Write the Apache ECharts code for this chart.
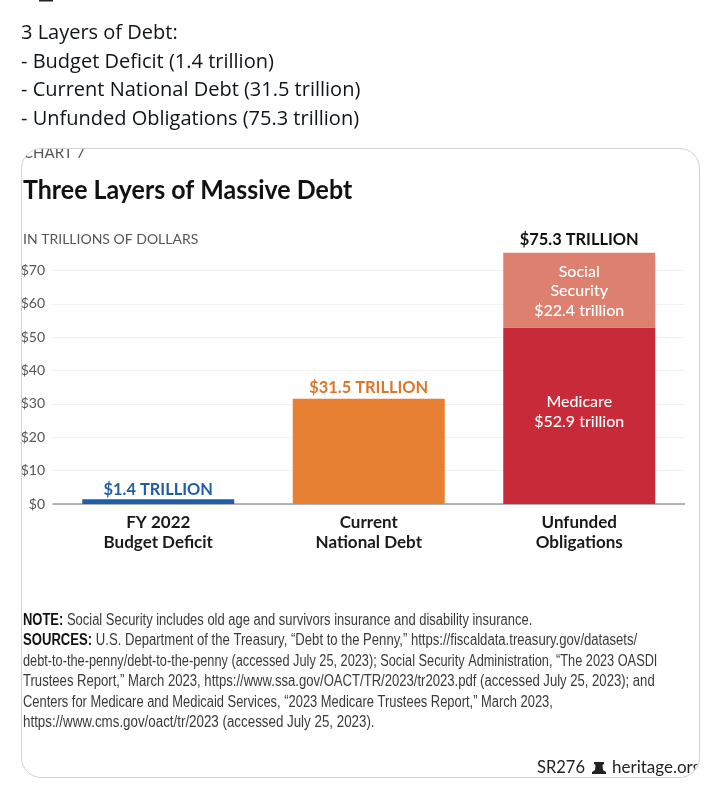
<!DOCTYPE html>
<html><head><meta charset="utf-8">
<style>html,body{margin:0;padding:0;background:#fff}#c{width:715px;height:790px}</style>
<script src="https://cdn.jsdelivr.net/npm/echarts@6/dist/echarts.min.js"></script>
</head><body><div id="c"></div>
<script>
const categories = ["FY 2022\nBudget Deficit", "Current\nNational Debt", "Unfunded\nObligations"];
const baseValues = [1.4, 31.5, 52.9];
const socialSecurity = [null, null, 22.4];
const totalLabels = ["$1.4 TRILLION", "$31.5 TRILLION", "$75.3 TRILLION"];
const baseColors = ["#1F5DA8", "#E88034", "#C92A39"];
const totalColors = ["#1F5DA8", "#D9772E", "#111111"];
const introLines = ["3 Layers of Debt:", "- Budget Deficit (1.4 trillion)", "- Current National Debt (31.5 trillion)", "- Unfunded Obligations (75.3 trillion)"];
const notePrefixes = ["NOTE:", "SOURCES:", "", "", "", ""];
const noteLines = [
 "Social Security includes old age and survivors insurance and disability insurance.",
 "U.S. Department of the Treasury, \u201CDebt to the Penny,\u201D https://fiscaldata.treasury.gov/datasets/",
 "debt-to-the-penny/debt-to-the-penny (accessed July 25, 2023); Social Security Administration, \u201CThe 2023 OASDI",
 "Trustees Report,\u201D March 2023, https://www.ssa.gov/OACT/TR/2023/tr2023.pdf (accessed July 25, 2023); and",
 "Centers for Medicare and Medicaid Services, \u201C2023 Medicare Trustees Report,\u201D March 2023,",
 "https://www.cms.gov/oact/tr/2023 (accessed July 25, 2023)."
];
const noteScale = [0.81, 0.819, 0.797, 0.818, 0.807, 0.834];
const totalDistance = [2, 3.5, 5];
const F = "Lato, 'Open Sans', sans-serif";
const N = "'Liberation Sans',sans-serif";
const chart = echarts.init(document.getElementById('c'), null, {renderer:'canvas'});
const gfx = [];
gfx.push({type:'rect',z:10,shape:{x:39,y:0,width:14,height:1.5},style:{fill:'#222'}});
introLines.forEach((t,i)=>gfx.push({type:'text',z:10,x:21,y:23.5+i*28.6,style:{text:t,font:"20px 'Open Sans'",fill:'#0f1419'}}));
gfx.push({type:'text',z:5,x:23,y:145.5,style:{text:'CHART 7',font:"15px "+F,fill:'#555'}});
gfx.push({type:'text',z:5,x:23,y:176.5,scaleX:0.925,style:{text:'Three Layers of Massive Debt',font:"bold 27px "+F,fill:'#111'}});
gfx.push({type:'text',z:5,x:23,y:232,style:{text:'IN TRILLIONS OF DOLLARS',font:"14px "+F,fill:'#555'}});
noteLines.forEach((t,i)=>gfx.push({type:'text',z:5,x:23,y:612.5+i*20.4,scaleX:noteScale[i],style:{
  text:(notePrefixes[i]?'{b|'+notePrefixes[i]+'} ':'')+t,font:"16px "+N,fill:'#3a3a3a',
  rich:{b:{font:"bold 16px "+N,fill:'#111'}}}}));
gfx.push({type:'text',z:5,x:537,y:759.5,style:{text:'SR276',font:"16.5px "+F,fill:'#222'}});
gfx.push({type:'polygon',z:5,shape:{points:[[594,762],[604,762],[604,764],[602.5,765],[603,770],[606,772],[606,774],[592,774],[592,772],[595,770],[595.5,765],[594,764]]},style:{fill:'#222'}});
gfx.push({type:'text',z:5,x:612,y:759.5,style:{text:'heritage.org',font:"17px "+F,fill:'#222'}});
// mask outside the rounded card (thick stroke whose inner edge is the card edge), then its border
gfx.push({type:'rect',z:8,shape:{x:2,y:128,width:717,height:669,r:40},style:{fill:'none',stroke:'#fff',lineWidth:40}});
gfx.push({type:'rect',z:9,shape:{x:21.5,y:148.5,width:678,height:629,r:20},style:{fill:'none',stroke:'#cfd4d8',lineWidth:1}});
const insideLabel = {color:'#fff',fontFamily:'Lato',fontWeight:500,fontSize:16,lineHeight:19.5};
chart.setOption({
  animation:false,
  backgroundColor:'#fff',
  grid:{left:53,top:237,width:631.5,height:267,containLabel:false},
  xAxis:{type:'category',data:categories,axisTick:{show:false},axisLine:{lineStyle:{color:'#9a9fa3',width:1.5}},
    axisLabel:{fontFamily:'Lato',fontWeight:'bold',fontSize:17,color:'#1a1a1a',lineHeight:20,margin:9,interval:0}},
  yAxis:{type:'value',min:0,max:80,interval:10,axisLine:{show:false},axisTick:{show:false},
    axisLabel:{showMaxLabel:false,fontFamily:'Lato',fontSize:14,color:'#555',margin:8,formatter:'${value}'},
    splitLine:{showMaxLine:false,lineStyle:{color:'#f1f1f1',width:1}}},
  series:[
   {name:'Debt',type:'bar',stack:'t',barWidth:152,
    data:baseValues.map((v,i)=>({value:v,itemStyle:{color:baseColors[i]},
      label:i==2?{show:true,position:'inside',offset:[0,-4],formatter:'Medicare\n$52.9 trillion'}:{show:false}})),
    label:insideLabel},
   {name:'Social Security',type:'bar',stack:'t',barWidth:152,data:socialSecurity,
    itemStyle:{color:'#DD806F'},
    label:Object.assign({show:true,position:'inside',offset:[0,1],formatter:'Social\nSecurity\n$22.4 trillion'},insideLabel)},
   {name:'Total',type:'bar',stack:'t',barWidth:152,
    data:totalLabels.map((t,i)=>({value:0,label:{color:totalColors[i],formatter:t,distance:totalDistance[i]}})),
    label:{show:true,position:'top',fontFamily:'Lato',fontWeight:'bold',fontSize:16.4}}
  ],
  graphic:{elements:gfx}
});
</script></body></html>
